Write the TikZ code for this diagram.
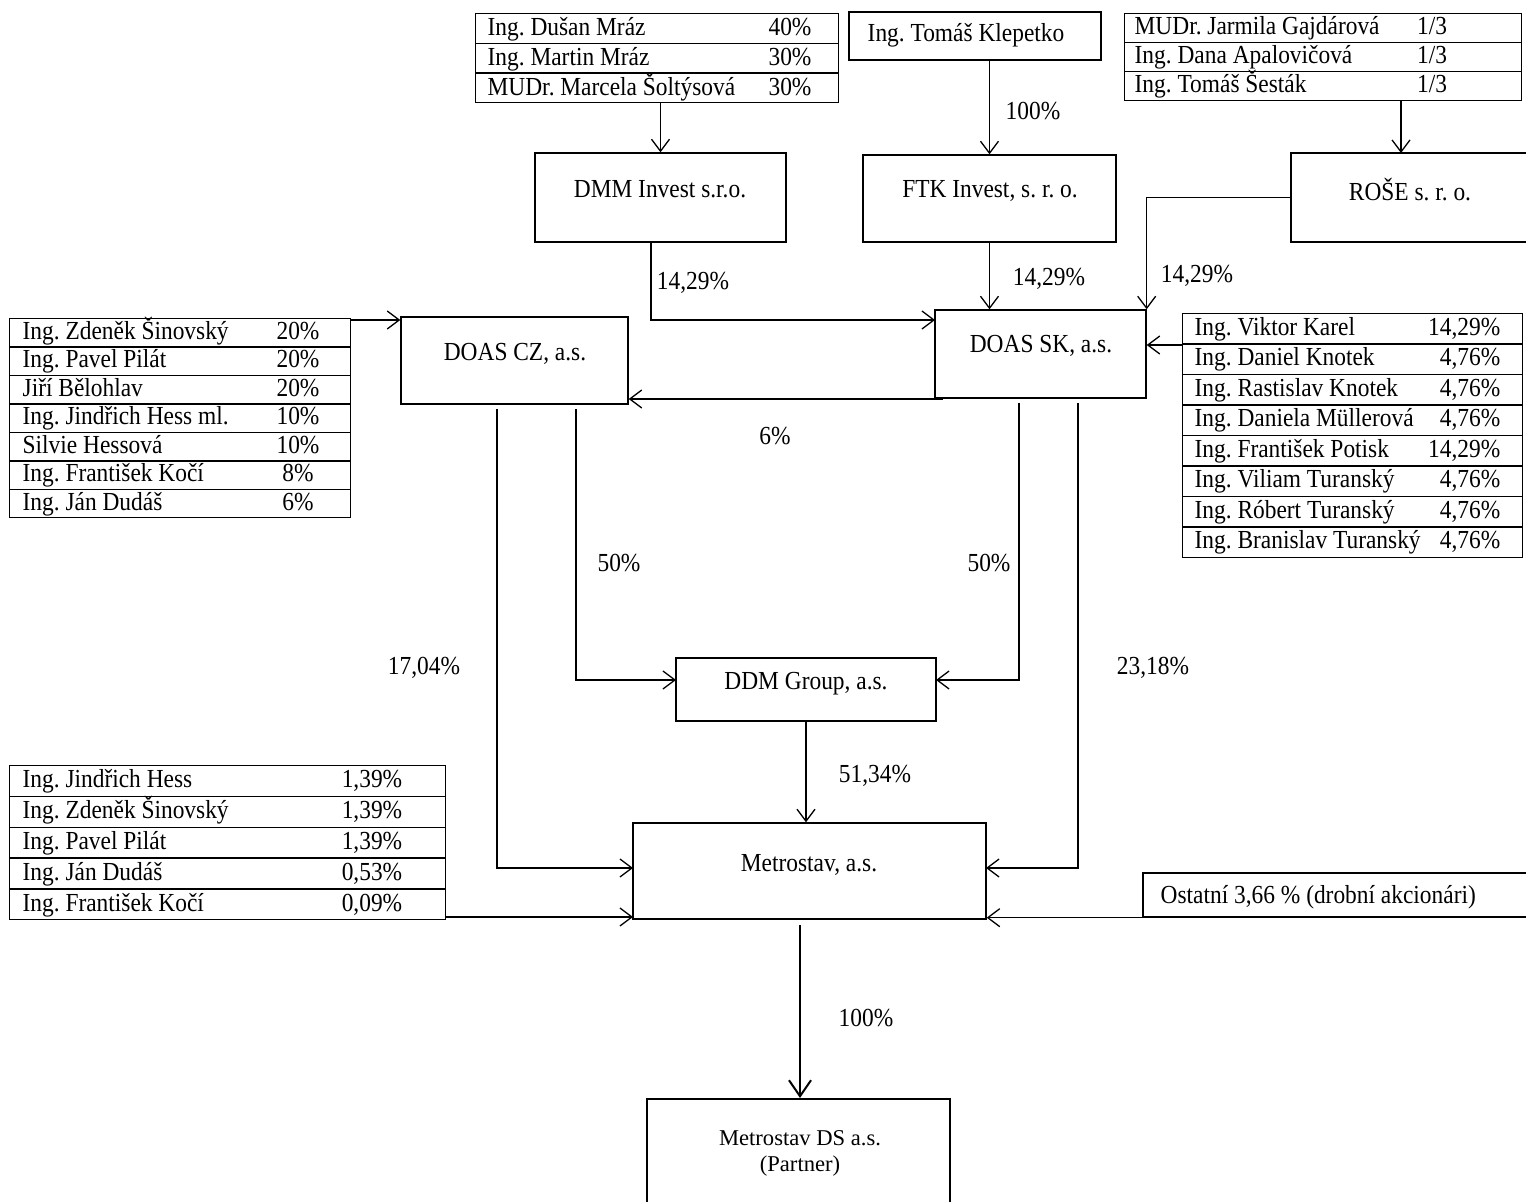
\documentclass[tikz,border=0pt]{standalone}
\usepackage{fontspec}
\setmainfont{Liberation Serif}[FakeStretch=0.9]
\newfontfamily\plainserif{Liberation Serif}
\usetikzlibrary{arrows.meta,calc}
\frenchspacing
\begin{document}
\begin{tikzpicture}[x=0.5pt, y=-0.5pt,
  font=\frenchspacing\fontsize{13pt}{15pt}\selectfont,
  line width=0.65pt,
  box/.style={draw, line width=0.7pt, inner sep=0pt},
  cell/.style={draw, line width=0.7pt, inner sep=0pt, anchor=north west},
  txt/.style={inner sep=0pt},
  nm/.style={inner sep=0pt, anchor=base west},
  vl/.style={inner sep=0pt, anchor=base},
  arr/.style={-{Straight Barb[length=6pt,width=9pt]}, line width=0.65pt},
  bigarr/.style={-{Straight Barb[length=8pt,width=11pt]}, line width=1pt}]
\useasboundingbox (0,0) rectangle (1526,1202);

% ---------- tables ----------
\foreach \nm/\val [count=\i from 0] in {Ing. Dušan Mráz/40\%, Ing. Martin Mráz/30\%, MUDr. Marcela Šoltýsová/30\%} {
  \node[cell, minimum width=181.5pt, minimum height=14.83pt] (mraz\i) at (475,13+\i*29.67) {};
  \node[nm] (mrazN\i) at (487,36+\i*29.67) {\nm};
  \node[vl] (mrazV\i) at (790,36+\i*29.67) {\val};
}
\foreach \nm [count=\i from 0] in {MUDr. Jarmila Gajdárová, Ing. Dana Apalovičová, Ing. Tomáš Šesták} {
  \node[cell, minimum width=198.5pt, minimum height=14.5pt] (gaj\i) at (1124,13+\i*29) {};
  \node[nm] (gajN\i) at (1134,35+\i*29) {\nm};
  \node[vl] (gajV\i) at (1432,35+\i*29) {1/3};
}
\foreach \nm/\val [count=\i from 0] in {Ing. Zdeněk Šinovský/20\%, Ing. Pavel Pilát/20\%, Jiří Bělohlav/20\%, Ing. Jindřich Hess ml./10\%, Silvie Hessová/10\%, Ing. František Kočí/8\%, Ing. Ján Dudáš/6\%} {
  \node[cell, minimum width=170.5pt, minimum height=14.215pt] (sin\i) at (9,318+\i*28.43) {};
  \node[nm] (sinN\i) at (22,339.5+\i*28.43) {\nm};
  \node[vl] (sinV\i) at (298,339.5+\i*28.43) {\val};
}
\foreach \nm/\val [count=\i from 0] in {Ing. Viktor Karel/{14,29\%}, Ing. Daniel Knotek/{4,76\%}, Ing. Rastislav Knotek/{4,76\%}, Ing. Daniela Müllerová/{4,76\%}, Ing. František Potisk/{14,29\%}, Ing. Viliam Turanský/{4,76\%}, Ing. Róbert Turanský/{4,76\%}, Ing. Branislav Turanský/{4,76\%}} {
  \node[cell, minimum width=170pt, minimum height=15.25pt] (kar\i) at (1182,313+\i*30.5) {};
  \node[nm] (karN\i) at (1194,335.5+\i*30.5) {\nm};
  \node[inner sep=0pt, anchor=base east] (karV\i) at (1501,335.5+\i*30.5) {\val};
}
\foreach \nm/\val [count=\i from 0] in {Ing. Jindřich Hess/{1,39\%}, Ing. Zdeněk Šinovský/{1,39\%}, Ing. Pavel Pilát/{1,39\%}, Ing. Ján Dudáš/{0,53\%}, Ing. František Kočí/{0,09\%}} {
  \node[cell, minimum width=218pt, minimum height=15.4pt] (hess\i) at (9,765+\i*30.8) {};
  \node[nm] (hessN\i) at (22,788+\i*30.8) {\nm};
  \node[vl] (hessV\i) at (372,788+\i*30.8) {\val};
}

% ---------- boxes ----------
\node[box, minimum width=126pt, minimum height=24pt] (klep) at (975,36) {};
\node[txt] (klepT) at (966,35) {Ing. Tomáš Klepetko};
\node[box, minimum width=125.5pt, minimum height=44.5pt] (dmm) at (660.5,197.5) {};
\node[txt] (dmmT) at (660,189) {DMM Invest s.r.o.};
\node[box, minimum width=126.5pt, minimum height=43.5pt] (ftk) at (989.5,198.5) {};
\node[txt] (ftkT) at (990,191) {FTK Invest, s. r. o.};
\node[box, minimum width=124.5pt, minimum height=44.5pt] (rose) at (1415.5,197.5) {};
\node[txt] (roseT) at (1410,190) {ROŠE s. r. o.};
\node[box, minimum width=105.5pt, minimum height=44pt] (doassk) at (1040.5,354) {};
\node[txt] (doasskT) at (1041,346) {DOAS SK, a.s.};
\node[box, minimum width=113.5pt, minimum height=43.5pt] (doascz) at (514.5,360.5) {};
\node[txt] (doasczT) at (515,354) {DOAS CZ, a.s.};
\node[box, minimum width=130pt, minimum height=31.5pt] (ddm) at (806,689.5) {};
\node[txt] (ddmT) at (806,684) {DDM Group, a.s.};
\node[box, minimum width=176.5pt, minimum height=48pt] (metro) at (809.5,871) {};
\node[txt] (metroT) at (809,865) {Metrostav, a.s.};
\node[box, minimum width=198.5pt, minimum height=22pt] (ost) at (1341.5,895) {};
\node[txt, anchor=west] (ostT) at (1160,897) {Ostatní 3,66 \% (drobní akcionári)};
\node[box, line width=1pt, minimum width=151.5pt, minimum height=58pt] (ds) at (798.5,1157) {};
\node[txt, font=\plainserif\fontsize{11.3pt}{13pt}\selectfont, align=center] (dsT) at (800,1153) {Metrostav DS a.s.\\(Partner)};

% ---------- connector end points ----------
\coordinate (roseIn) at (1401,153);
\coordinate (dmmOut) at (651,242);
\coordinate (skInL) at (935,320);
\coordinate (karOut) at (1182,345);
\coordinate (sinOut) at (350,320);
\coordinate (skOut6) at (943,399);
\coordinate (czA) at (576,409);
\coordinate (czB) at (497,409);
\coordinate (ddmInL) at (676,680);
\coordinate (ddmInR) at (936,680);
\coordinate (skA) at (1019,403);
\coordinate (skB) at (1078,403);
\coordinate (metInL) at (633,868);
\coordinate (metInR) at (986,868);
\coordinate (hessOut) at (445,917);
\coordinate (metInLB) at (633,917);
\coordinate (metOut) at (800,925);

% ---------- connectors ----------
\draw[arr] (dmm.north |- mraz2.south) -- (dmm.north);
\draw[arr] (ftk.north |- klep.south) -- (ftk.north);
\draw[arr] (roseIn |- gaj2.south) -- (roseIn);
\draw[arr] (rose.west) -| (doassk.north east);
\draw[arr] (dmmOut) |- (skInL);
\draw[arr] (ftk.south) -- (ftk.south |- doassk.north);
\draw[arr] (karOut) -- (karOut -| doassk.east);
\draw[arr] (sinOut) -- (sinOut -| doascz.west);
\draw[arr] (skOut6) -- (skOut6 -| doascz.east);
\draw[arr] (czA) |- (ddmInL);
\draw[arr] (czB) |- (metInL);
\draw[arr] (skA) |- (ddmInR);
\draw[arr] (skB) |- (metInR);
\draw[arr] (ddm.south) -- (ddm.south |- metro.north);
\draw[arr] (hessOut) -- (metInLB);
\draw[arr] (ost.south west) -- (ost.south west -| metro.east);
\draw[bigarr] (metOut) -- (metOut |- ds.north);

% ---------- labels ----------
\node[txt] (l1) at (1033,111) {100\%};
\node[txt] (l2) at (693,283) {14,29\%};
\node[txt] (l3) at (1049,279) {14,29\%};
\node[txt] (l4) at (1197,276) {14,29\%};
\node[txt] (l5) at (775,436) {6\%};
\node[txt] (l6) at (619,563) {50\%};
\node[txt] (l7) at (989,563) {50\%};
\node[txt] (l8) at (424,668) {17,04\%};
\node[txt] (l9) at (1153,668) {23,18\%};
\node[txt] (l10) at (875,776) {51,34\%};
\node[txt] (l11) at (866,1018) {100\%};
\end{tikzpicture}
\end{document}
